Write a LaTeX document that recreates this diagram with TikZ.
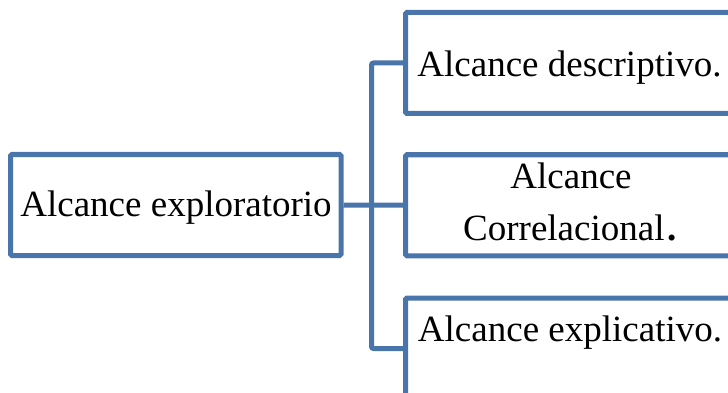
\documentclass[tikz,border=0pt]{standalone}
\usepackage{fontspec}
\setmainfont{Liberation Serif}
\definecolor{boxblue}{RGB}{74,117,170}
\begin{document}
\begin{tikzpicture}[x=1pt,y=-1pt,
  box/.style={draw=boxblue, line width=5pt, rounded corners=1.5pt,
    rectangle, inner sep=0pt, minimum height=101pt, minimum width=#1},
  link/.style={draw=boxblue, line width=5pt, rounded corners=2pt},
  txt/.style={anchor=base, inner sep=0pt, font=\fontsize{37}{44}\selectfont}]
\useasboundingbox (0,0) rectangle (728,393);
\clip (0,0) rectangle (728,393);
% boxes
\node[box=330.5] (expl) at (175.75,205) {};
\node[box=329] (desc) at (570,63) {};
\node[box=329] (corr) at (570,205.25) {};
\node[box=329] (caus) at (570,348.5) {};
% connectors
\draw[link] (expl.east) -- (corr.west);
\draw[link] (desc.west) -- ++(-31.5,0) |- (caus.west);
% labels
\node[txt] (t1) at (176,216.7) {Alcance exploratorio};
\node[txt] (t2) at (569.5,76.7) {Alcance descriptivo.};
\node[txt] (t3) at (571,188.3) {Alcance};
\node[txt] (t4) at (570,240) {Correlacional\kern3pt\textbf{.}};
\node[txt] (t5) at (570,341.7) {Alcance explicativo.};
\end{tikzpicture}
\end{document}
